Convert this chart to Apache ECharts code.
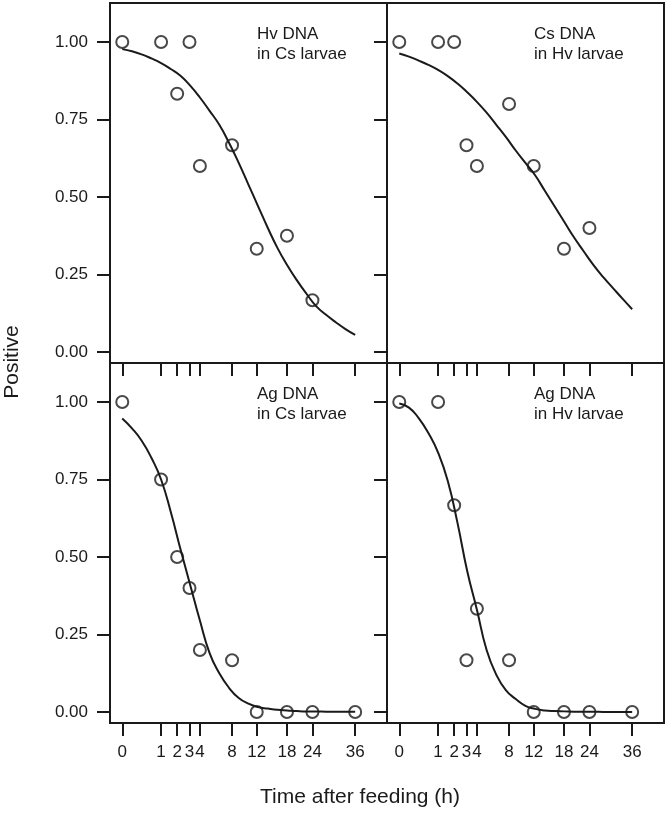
<!DOCTYPE html>
<html>
<head>
<meta charset="utf-8">
<script src="https://cdn.jsdelivr.net/npm/echarts@6/dist/echarts.min.js"></script>
<style>
  html, body { margin: 0; padding: 0; background: #fff; }
  #main { width: 666px; height: 817px; }
</style>
</head>
<body>
<div id="main"></div>
<script>
// ticks on the square-root time axis
var tickHours = [0, 1, 2, 3, 4, 8, 12, 18, 24, 36];
var yTicks = [0, 0.25, 0.5, 0.75, 1];

// observed proportions
var hvInCsHours = [0, 1, 2, 3, 4, 8, 12, 18, 24];
var hvInCsPos   = [1, 1, 0.833, 1, 0.6, 0.667, 0.333, 0.375, 0.167];
var csInHvHours = [0, 1, 2, 3, 4, 8, 12, 18, 24];
var csInHvPos   = [1, 1, 1, 0.667, 0.6, 0.8, 0.6, 0.333, 0.4];
var agInCsHours = [0, 1, 2, 3, 4, 8, 12, 18, 24, 36];
var agInCsPos   = [1, 0.75, 0.5, 0.4, 0.2, 0.167, 0, 0, 0, 0];
var agInHvHours = [0, 1, 2, 3, 4, 8, 12, 18, 24, 36];
var agInHvPos   = [1, 1, 0.667, 0.167, 0.333, 0.167, 0, 0, 0, 0];

// fitted curves at sqrt(hours) = 0, 0.25, 0.5 ... 6
var fitRootHours = [0, 0.25, 0.5, 0.75, 1, 1.25, 1.5, 1.75, 2, 2.25, 2.5, 2.75, 3,
                    3.25, 3.5, 3.75, 4, 4.25, 4.5, 4.75, 5, 5.25, 5.5, 5.75, 6];
var hvInCsFit = [0.977, 0.970, 0.960, 0.947, 0.932, 0.913, 0.891, 0.859, 0.821, 0.778, 0.733, 0.675, 0.61,
                 0.54, 0.47, 0.40, 0.335, 0.28, 0.231, 0.187, 0.147, 0.12, 0.096, 0.074, 0.055];
var csInHvFit = [0.963, 0.953, 0.94, 0.926, 0.91, 0.89, 0.866, 0.838, 0.807, 0.772, 0.733, 0.693, 0.65,
                 0.61, 0.57, 0.52, 0.47, 0.42, 0.37, 0.325, 0.281, 0.242, 0.207, 0.172, 0.138];
var agInCsFit = [0.947, 0.915, 0.875, 0.82, 0.75, 0.645, 0.525, 0.41, 0.295, 0.19, 0.125, 0.078, 0.045,
                 0.027, 0.016, 0.011, 0.007, 0.005, 0.003, 0.002, 0.002, 0.001, 0.001, 0.001, 0.001];
var agInHvFit = [0.995, 0.982, 0.948, 0.90, 0.837, 0.745, 0.61, 0.455, 0.33, 0.20, 0.12, 0.07, 0.042,
                 0.02, 0.01, 0.005, 0.003, 0.002, 0.001, 0.001, 0.001, 0, 0, 0, 0];

var panelNames = ['Hv DNA\nin Cs larvae', 'Cs DNA\nin Hv larvae', 'Ag DNA\nin Cs larvae', 'Ag DNA\nin Hv larvae'];

var font = "'Liberation Sans', Arial, sans-serif";
var ink = '#1a1a1a';

var panels = [
  {left: 110, top: 3,   hours: hvInCsHours, pos: hvInCsPos, fit: hvInCsFit},
  {left: 387, top: 3,   hours: csInHvHours, pos: csInHvPos, fit: csInHvFit},
  {left: 110, top: 363, hours: agInCsHours, pos: agInCsPos, fit: agInCsFit},
  {left: 387, top: 363, hours: agInHvHours, pos: agInHvPos, fit: agInHvFit}
];

var rootTicks = tickHours.map(function (h) { return Math.sqrt(h); });

var grids = [], xAxes = [], yAxes = [], series = [], graphics = [];

panels.forEach(function (p, i) {
  var bottomRow = i >= 2, leftCol = i % 2 === 0;
  grids.push({
    left: p.left, top: p.top, width: 277, height: 360,
    show: true, borderColor: ink, borderWidth: 2, backgroundColor: 'transparent'
  });
  xAxes.push({
    gridIndex: i, type: 'value', min: -0.316, max: 6.82,
    axisLine: {show: false, onZero: false}, splitLine: {show: false},
    axisTick: {show: true, length: 13, customValues: rootTicks, lineStyle: {color: ink, width: 2}},
    axisLabel: {
      show: bottomRow, customValues: rootTicks, margin: 21,
      fontSize: 17, fontFamily: font, color: ink,
      formatter: function (v) { return String(Math.round(v * v)); }
    }
  });
  yAxes.push({
    gridIndex: i, type: 'value', min: -0.0355, max: 1.1258,
    axisLine: {show: false, onZero: false}, splitLine: {show: false},
    axisTick: {show: true, length: 13, customValues: yTicks, lineStyle: {color: ink, width: 2}},
    axisLabel: {
      show: leftCol, customValues: yTicks, margin: 22,
      fontSize: 17, fontFamily: font, color: ink,
      formatter: function (v) { return v.toFixed(2); }
    }
  });
  series.push({
    type: 'line', xAxisIndex: i, yAxisIndex: i,
    data: fitRootHours.map(function (s, k) { return [s, p.fit[k]]; }),
    showSymbol: false, smooth: 0.5,
    lineStyle: {color: ink, width: 2}, silent: true, z: 2
  });
  series.push({
    type: 'scatter', xAxisIndex: i, yAxisIndex: i,
    data: p.hours.map(function (h, k) { return [Math.sqrt(h), p.pos[k]]; }),
    symbol: 'circle', symbolSize: 12,
    itemStyle: {color: 'transparent', borderColor: ink, borderWidth: 2}, z: 3
  });
  graphics.push({
    type: 'text', left: p.left + 147, top: p.top + 21,
    style: {text: panelNames[i], font: '17px ' + font, fill: ink, lineHeight: 20}
  });
});

graphics.push({
  type: 'text', x: 12, y: 362, rotation: Math.PI / 2,
  style: {text: 'Positive', font: '21px ' + font, fill: ink, align: 'center', verticalAlign: 'middle'}
});
graphics.push({
  type: 'text', x: 360, y: 797,
  style: {text: 'Time after feeding (h)', font: '21px ' + font, fill: ink, align: 'center', verticalAlign: 'middle'}
});

var chart = echarts.init(document.getElementById('main'), null, {renderer: 'canvas'});
chart.setOption({
  animation: false,
  backgroundColor: '#fff',
  grid: grids,
  xAxis: xAxes,
  yAxis: yAxes,
  series: series,
  graphic: graphics
});
</script>
</body>
</html>
